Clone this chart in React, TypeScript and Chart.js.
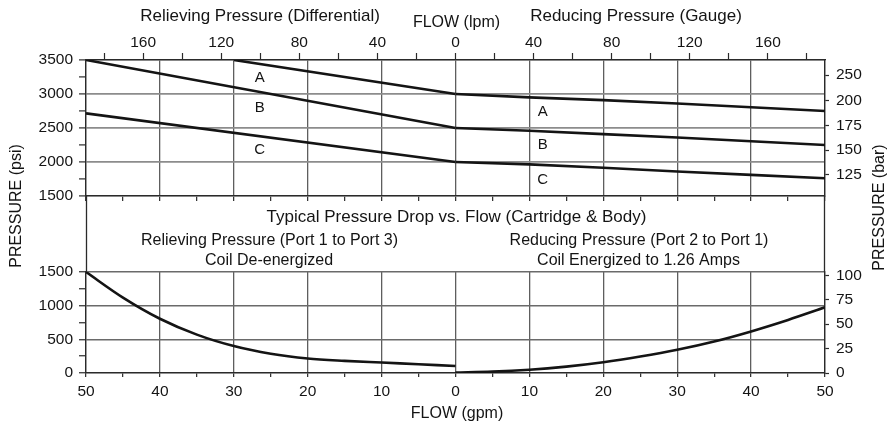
import React, { useEffect, useRef } from 'react';
import { Chart, registerables } from 'chart.js';

Chart.register(...registerables);

const PSI_PER_BAR = 14.5038;
const LPM_PER_GPM = 3.78541;

// ---- Top panel: pressure setting vs flow (gpm; negative side = relieving) ----
const topFlowRelA = [-30, 0];
const topPsiRelA = [3500, 3000];
const topFlowRelB = [-50, 0];
const topPsiRelB = [3500, 2500];
const topFlowRelC = [-50, 0];
const topPsiRelC = [2715, 2000];
const topFlowRed = [0, 10, 20, 30, 40, 50];
const topPsiRedA = [3000, 2950, 2910, 2860, 2805, 2750];
const topPsiRedB = [2500, 2460, 2410, 2360, 2305, 2250];
const topPsiRedC = [2000, 1965, 1915, 1860, 1810, 1760];

// curve labels
const curveNames = ['A', 'B', 'C'];
const relLabelFlow = -26.5;
const relLabelPsi = [3235, 2794, 2176];
const redLabelFlow = 11.8;
const redLabelPsi = [2735, 2250, 1735];

// ---- Bottom panel: pressure drop vs flow ----
const dropFlowRel = [-50, -45, -40, -35, -30, -25, -20, -15, -10, -5, 0];
const dropPsiRel = [1500, 1120, 806, 570, 400, 285, 215, 180, 155, 130, 105];
const dropFlowRed = [0, 5, 10, 15, 20, 25, 30, 35, 40, 45, 50];
const dropPsiRed = [8, 20, 48, 95, 160, 245, 345, 468, 618, 788, 975];

// ---- ticks ----
const gpmTicks = [-50, -45, -40, -35, -30, -25, -20, -15, -10, -5, 0, 5, 10, 15, 20, 25, 30, 35, 40, 45, 50];
const lpmTicks = [-180, -160, -140, -120, -100, -80, -60, -40, -20, 0, 20, 40, 60, 80, 100, 120, 140, 160, 180];
const psiTopTicks = [1500, 1750, 2000, 2250, 2500, 2750, 3000, 3250, 3500];
const psiBottomTicks = [0, 250, 500, 750, 1000, 1250, 1500];
const barTopTickValues = [125, 150, 175, 200, 226];
const barTopTickLabels = ['125', '150', '175', '200', '250'];
const barBottomTicks = [0, 25, 50, 75, 100];

const FONT = "'Liberation Sans', Arial, Helvetica, sans-serif";
const INK = '#141414';
const AXIS = '#2a2a2a';
const W = 896;
const H = 422;

const tickFont = { family: FONT, size: 15.5 };

function pts(xs: number[], ys: number[]) {
  return xs.map((x, i) => ({ x, y: ys[i] }));
}

function ds(xs: number[], ys: number[], smooth: boolean) {
  return {
    data: pts(xs, ys),
    xAxisID: 'x',
    yAxisID: 'y',
    borderColor: INK,
    borderWidth: 2.6,
    pointRadius: 0,
    fill: false,
    tension: 0,
    cubicInterpolationMode: smooth ? 'monotone' : 'default',
  };
}

function setTicks(values: number[]) {
  return (s: any) => {
    s.ticks = values.map((v) => ({ value: v }));
  };
}

const textPlugin = {
  id: 'texts',
  afterDraw(chart: any) {
    const ctx = chart.ctx;
    ctx.save();
    ctx.fillStyle = INK;
    ctx.textAlign = 'center';
    ctx.textBaseline = 'middle';
    const put = (t: string, x: number, y: number, size: number, rot = 0) => {
      ctx.save();
      ctx.font = `${size}px ${FONT}`;
      ctx.translate(x, y);
      if (rot) ctx.rotate(rot);
      ctx.fillText(t, 0, 0);
      ctx.restore();
    };
    put('Relieving Pressure (Differential)', 260, 16, 17);
    put('FLOW (lpm)', 456.5, 23, 16);
    put('Reducing Pressure (Gauge)', 636, 16, 17);
    put('Typical Pressure Drop vs. Flow (Cartridge & Body)', 456.5, 217, 17);
    put('Relieving Pressure (Port 1 to Port 3)', 269.5, 241, 16);
    put('Coil De-energized', 269, 260.5, 16);
    put('Reducing Pressure (Port 2 to Port 1)', 639, 241, 16);
    put('Coil Energized to 1.26 Amps', 638.5, 260.5, 16);
    put('FLOW (gpm)', 457, 413.5, 16);
    put('PRESSURE (psi)', 16.5, 206, 16, -Math.PI / 2);
    put('PRESSURE (bar)', 880, 207.5, 16, -Math.PI / 2);
    ctx.restore();
  },
};

const curveLabelPlugin = {
  id: 'curveLabels',
  afterDatasetsDraw(chart: any) {
    const ctx = chart.ctx;
    const xs = chart.scales.x;
    const ys = chart.scales.y;
    ctx.save();
    ctx.fillStyle = INK;
    ctx.font = `15px ${FONT}`;
    ctx.textAlign = 'center';
    ctx.textBaseline = 'middle';
    curveNames.forEach((n, i) => {
      ctx.fillText(n, xs.getPixelForValue(relLabelFlow), ys.getPixelForValue(relLabelPsi[i]));
      ctx.fillText(n, xs.getPixelForValue(redLabelFlow), ys.getPixelForValue(redLabelPsi[i]));
    });
    ctx.restore();
  },
};

function topConfig(): any {
  return {
    type: 'line',
    data: {
      datasets: [
        ds(topFlowRelA, topPsiRelA, false),
        ds(topFlowRelB, topPsiRelB, false),
        ds(topFlowRelC, topPsiRelC, false),
        ds(topFlowRed, topPsiRedA, false),
        ds(topFlowRed, topPsiRedB, false),
        ds(topFlowRed, topPsiRedC, false),
      ],
    },
    options: {
      responsive: false,
      animation: false,
      devicePixelRatio: 1,
      events: [],
      layout: { padding: { left: 0, right: 0, top: 0, bottom: H - 196 - 5 } },
      plugins: { legend: { display: false }, tooltip: { enabled: false } },
      scales: {
        x: {
          type: 'linear',
          axis: 'x',
          position: 'bottom',
          min: -50,
          max: 50,
          afterBuildTicks: setTicks(gpmTicks),
          afterFit: (s: any) => { s.height = 5; },
          ticks: { display: false, autoSkip: false, maxRotation: 0 },
          grid: {
            color: (c: any) => (c.tick && c.tick.value % 10 === 0 ? '#5e5e5e' : 'rgba(0,0,0,0)'),
            lineWidth: 1.3,
            tickColor: AXIS,
            tickWidth: 1.2,
            tickLength: 5,
          },
          border: { display: true, color: AXIS, width: 1.3 },
        },
        xTop: {
          type: 'linear',
          axis: 'x',
          position: 'top',
          min: -50 * LPM_PER_GPM,
          max: 50 * LPM_PER_GPM,
          afterBuildTicks: setTicks(lpmTicks),
          afterFit: (s: any) => { s.height = 60; },
          ticks: {
            autoSkip: false,
            maxRotation: 0,
            padding: 1,
            color: INK,
            font: tickFont,
            callback: (v: any) => (v % 40 === 0 ? String(Math.abs(v)) : ''),
          },
          grid: { drawOnChartArea: false, tickColor: AXIS, tickWidth: 1.2, tickLength: 7 },
          border: { display: true, color: AXIS, width: 1.3 },
        },
        y: {
          type: 'linear',
          axis: 'y',
          position: 'left',
          min: 1500,
          max: 3500,
          afterBuildTicks: setTicks(psiTopTicks),
          afterFit: (s: any) => { s.width = 86; },
          ticks: {
            autoSkip: false,
            padding: 6,
            color: INK,
            font: tickFont,
            callback: (v: any) => (v % 500 === 0 ? String(v) : ''),
          },
          grid: {
            color: (c: any) => (c.tick && c.tick.value % 500 === 0 ? '#8c8c8c' : 'rgba(0,0,0,0)'),
            lineWidth: 1.8,
            tickColor: AXIS,
            tickWidth: 1.2,
            tickLength: 7,
          },
          border: { display: true, color: AXIS, width: 1.3 },
        },
        y2: {
          type: 'linear',
          axis: 'y',
          position: 'right',
          min: 1500 / PSI_PER_BAR,
          max: 3500 / PSI_PER_BAR,
          afterBuildTicks: setTicks(barTopTickValues),
          afterFit: (s: any) => { s.width = W - 825; },
          ticks: {
            autoSkip: false,
            padding: 7,
            color: INK,
            font: tickFont,
            callback: (v: any) => {
              const i = barTopTickValues.indexOf(v);
              return i >= 0 ? barTopTickLabels[i] : '';
            },
          },
          grid: { drawOnChartArea: false, tickColor: AXIS, tickWidth: 1.2, tickLength: 4 },
          border: { display: true, color: AXIS, width: 1.3 },
        },
      },
    },
    plugins: [curveLabelPlugin, textPlugin],
  };
}

function bottomConfig(topChart: any): any {
  const gapPlugin = {
    id: 'gapBorders',
    afterDraw(chart: any) {
      const ctx = chart.ctx;
      const a = chart.chartArea;
      const y0 = topChart.chartArea.bottom;
      ctx.save();
      ctx.strokeStyle = AXIS;
      ctx.lineWidth = 1.3;
      ctx.beginPath();
      ctx.moveTo(Math.round(a.left) + 0.5, y0);
      ctx.lineTo(Math.round(a.left) + 0.5, a.top);
      ctx.moveTo(Math.round(a.right) - 0.5, y0);
      ctx.lineTo(Math.round(a.right) - 0.5, a.top);
      ctx.stroke();
      ctx.restore();
    },
  };
  return {
    type: 'line',
    data: {
      datasets: [ds(dropFlowRel, dropPsiRel, true), ds(dropFlowRed, dropPsiRed, true)],
    },
    options: {
      responsive: false,
      animation: false,
      devicePixelRatio: 1,
      events: [],
      layout: { padding: { left: 0, right: 0, top: 272, bottom: 0 } },
      plugins: { legend: { display: false }, tooltip: { enabled: false } },
      scales: {
        x: {
          type: 'linear',
          axis: 'x',
          position: 'bottom',
          min: -50,
          max: 50,
          afterBuildTicks: setTicks(gpmTicks),
          afterFit: (s: any) => { s.height = 49; },
          ticks: {
            autoSkip: false,
            maxRotation: 0,
            padding: 5,
            color: INK,
            font: tickFont,
            callback: (v: any) => (v % 10 === 0 ? String(Math.abs(v)) : ''),
          },
          grid: {
            color: (c: any) => (c.tick && c.tick.value % 10 === 0 ? '#5e5e5e' : 'rgba(0,0,0,0)'),
            lineWidth: 1.3,
            tickColor: AXIS,
            tickWidth: 1.2,
            tickLength: 4,
          },
          border: { display: true, color: AXIS, width: 1.3 },
        },
        y: {
          type: 'linear',
          axis: 'y',
          position: 'left',
          min: 0,
          max: 1500,
          afterBuildTicks: setTicks(psiBottomTicks),
          afterFit: (s: any) => { s.width = 86; },
          ticks: {
            autoSkip: false,
            padding: 6,
            color: INK,
            font: tickFont,
            callback: (v: any) => (v % 500 === 0 ? String(v) : ''),
          },
          grid: {
            color: (c: any) => (c.tick && c.tick.value % 500 === 0 ? '#6a6a6a' : 'rgba(0,0,0,0)'),
            lineWidth: 1.5,
            tickColor: AXIS,
            tickWidth: 1.2,
            tickLength: 7,
          },
          border: { display: true, color: AXIS, width: 1.3 },
        },
        y2: {
          type: 'linear',
          axis: 'y',
          position: 'right',
          min: 0,
          max: 1500 / PSI_PER_BAR,
          afterBuildTicks: setTicks(barBottomTicks),
          afterFit: (s: any) => { s.width = W - 825; },
          ticks: {
            autoSkip: false,
            padding: 7,
            color: INK,
            font: tickFont,
            callback: (v: any) => String(v),
          },
          grid: { drawOnChartArea: false, tickColor: AXIS, tickWidth: 1.2, tickLength: 4 },
          border: { display: true, color: AXIS, width: 1.3 },
        },
      },
    },
    plugins: [gapPlugin],
  };
}

export default function App() {
  const topRef = useRef<HTMLCanvasElement>(null);
  const botRef = useRef<HTMLCanvasElement>(null);

  useEffect(() => {
    const top = new Chart(topRef.current as HTMLCanvasElement, topConfig());
    const bottom = new Chart(botRef.current as HTMLCanvasElement, bottomConfig(top));
    return () => {
      bottom.destroy();
      top.destroy();
    };
  }, []);

  const cs: React.CSSProperties = { position: 'absolute', left: 0, top: 0, width: W, height: H };
  return (
    <div style={{ position: 'fixed', left: 0, top: 0, width: W, height: H, background: '#fff' }}>
      <canvas ref={topRef} width={W} height={H} style={cs} />
      <canvas ref={botRef} width={W} height={H} style={cs} />
    </div>
  );
}
